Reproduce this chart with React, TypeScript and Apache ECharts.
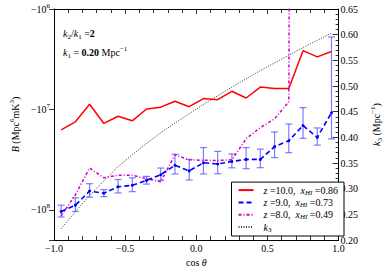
import React, { useEffect, useRef } from 'react';
import * as echarts from 'echarts';

// cos(theta) bin centres
const cosTheta = [-0.95, -0.85, -0.75, -0.65, -0.55, -0.45, -0.35, -0.25, -0.15, -0.05, 0.05, 0.15, 0.25, 0.35, 0.45, 0.55, 0.65, 0.75, 0.85, 0.95];

// Bispectrum B (Mpc^6 mK^3), negative values
const bZ10 = [-1.6e7, -1.33e7, -8.9e6, -1.38e7, -1.17e7, -1.3e7, -9.9e6, -9.5e6, -8.3e6, -9.4e6, -7.8e6, -8.0e6, -6.6e6, -7.7e6, -6.0e6, -6.2e6, -6.2e6, -2.6e6, -3.0e6, -2.65e6];
const bZ9 = [-1.04e8, -9.0e7, -6.5e7, -6.85e7, -5.9e7, -5.7e7, -5.1e7, -4.47e7, -3.6e7, -4.1e7, -3.4e7, -3.5e7, -3.3e7, -3.15e7, -3.15e7, -2.35e7, -2.05e7, -1.45e7, -1.9e7, -1.08e7];
const errZ9 = [1.4e7, 1.4e7, 1.0e7, 0.55e7, 0.9e7, 0.9e7, 0.45e7, 0.63e7, 0.8e7, 0.95e7, 1.0e7, 0.88e7, 0.52e7, 0.75e7, 0.66e7, 0.67e7, 0.65e7, 0.49e7, 0.37e7, 0.89e7];
// last three bins turn positive (drawn clipped, as on a log axis)
const bZ8 = [-1.15e8, -7.1e7, -3.84e7, -4.8e7, -4.53e7, -4.53e7, -4.9e7, -5.26e7, -2.83e7, -3.18e7, -3.21e7, -3.23e7, -3.18e7, -1.96e7, -1.52e7, -1.24e7, -8.4e6, 2e6, 3e6, 2e6];

// k3 (Mpc^-1) on right axis
const k3 = [0.222, 0.255, 0.287, 0.315, 0.343, 0.366, 0.388, 0.409, 0.428, 0.446, 0.464, 0.481, 0.498, 0.514, 0.53, 0.545, 0.56, 0.575, 0.589, 0.603];

const leftTicks = [6, 7, 8];

const FONT = "'Liberation Serif', 'DejaVu Serif', serif";

const mag = (b: number) => (-b > 0 ? -b : 1e-30);

function mkRich(fs: number, lh: number) {
  const sfs = Math.round(fs * 0.7);
  return {
    n: { fontFamily: FONT, fontSize: fs, lineHeight: lh, color: '#000' },
    i: { fontFamily: FONT, fontSize: fs, lineHeight: lh, color: '#000', fontStyle: 'italic' },
    ip: { fontFamily: FONT, fontSize: fs, lineHeight: lh, color: '#000', fontStyle: 'italic', padding: [0, 0, 0, 5] },
    b: { fontFamily: FONT, fontSize: fs, lineHeight: lh, color: '#000', fontWeight: 'bold' },
    sup: { fontFamily: FONT, fontSize: sfs, color: '#000', verticalAlign: 'top' },
    sub: { fontFamily: FONT, fontSize: sfs, color: '#000', verticalAlign: 'bottom' },
    subi: { fontFamily: FONT, fontSize: sfs, color: '#000', verticalAlign: 'bottom', fontStyle: 'italic' },
  };
}

const legendNames: Record<string, string> = {
  z10: '{ip|z}{n| =10.0,  }{i|x}{subi|HI}{n| =0.86}',
  z9: '{ip|z}{n| =9.0,  }{i|x}{subi|HI}{n| =0.73}',
  z8: '{ip|z}{n| =8.0,  }{i|x}{subi|HI}{n| =0.49}',
  k3: '{ip|k}{sub|3}',
};

export default function App() {
  const ref = useRef<HTMLDivElement>(null);
  useEffect(() => {
    if (!ref.current) return;
    const chart = echarts.init(ref.current, null, { renderer: 'svg' });
    const rich10 = mkRich(10, 14);
    const axisLine = { show: true, onZero: false, lineStyle: { color: '#000', width: 1 } };
    const tickStyle = { color: '#000', width: 0.8 };
    const fmtX = (v: number) => (v < 0 ? '−' + Math.abs(v).toFixed(1) : v.toFixed(1));
    const option: any = {
      animation: false,
      backgroundColor: '#fff',
      textStyle: { fontFamily: FONT },
      grid: { left: 48, right: 44, top: 9, bottom: 34 },
      xAxis: [
        {
          type: 'value', min: -1, max: 1, interval: 0.5, position: 'bottom',
          axisLine, axisTick: { inside: true, length: 5, lineStyle: tickStyle },
          minorTick: { show: true, splitNumber: 5, length: 4, lineStyle: tickStyle },
          splitLine: { show: false },
          axisLabel: { formatter: fmtX, fontFamily: FONT, fontSize: 10, color: '#000', margin: 3 },
          name: '{n|cos }{i|θ}', nameLocation: 'middle', nameGap: 15,
          nameTextStyle: { rich: rich10 },
        },
        {
          type: 'value', min: -1, max: 1, interval: 0.5, position: 'top',
          axisLine, axisTick: { inside: true, length: 5, lineStyle: tickStyle },
          minorTick: { show: true, splitNumber: 5, length: 4, lineStyle: tickStyle },
          splitLine: { show: false }, axisLabel: { show: false },
        },
      ],
      yAxis: [
        {
          type: 'log', logBase: 10, min: 1e6, max: 2e8, inverse: true, position: 'left',
          axisLine, axisTick: { inside: false, length: 5, lineStyle: tickStyle },
          minorTick: { show: false }, splitLine: { show: false },
          axisLabel: {
            margin: 4,
            formatter: (v: number) => {
              const L = Math.log10(v);
              const r = Math.round(L);
              if (Math.abs(L - r) > 1e-6 || leftTicks.indexOf(r) < 0) return '';
              return `{n|−10}{sup|${r}}`;
            },
            rich: rich10,
          },
          name: '{i|B}{n| (Mpc}{sup|6}{n|mK}{sup|3}{n|)}', nameLocation: 'middle', nameGap: 28,
          nameTextStyle: { rich: rich10 },
        },
        {
          type: 'value', min: 0.2, max: 0.65, interval: 0.05, position: 'right',
          axisLine, axisTick: { inside: true, length: 6, lineStyle: tickStyle },
          minorTick: { show: true, splitNumber: 5, length: 3, lineStyle: tickStyle },
          splitLine: { show: false },
          axisLabel: { formatter: (v: number) => v.toFixed(2), fontFamily: FONT, fontSize: 10, color: '#000', margin: 2 },
          name: '{i|k}{sub|3}{n| (Mpc}{sup|−1}{n|)}', nameLocation: 'middle', nameGap: 24,
          nameTextStyle: { rich: rich10 },
        },
      ],
      legend: {
        data: ['z10', 'z9', 'z8', 'k3'],
        orient: 'vertical', right: 47, bottom: 38, align: 'left',
        padding: [3, 6, 3, 6], itemGap: 1.3, itemWidth: 15, itemHeight: 10,
        backgroundColor: '#fff', borderColor: '#000', borderWidth: 1, borderRadius: 0,
        itemStyle: { color: 'rgba(0,0,0,0)', borderColor: 'rgba(0,0,0,0)', borderWidth: 0, opacity: 0 },
        formatter: (name: string) => legendNames[name],
        textStyle: { rich: mkRich(10, 12) },
      },
      graphic: [
        { type: 'text', left: 63, top: 28, style: { text: '{i|k}{sub|2}{n|/}{i|k}{sub|1}{n| =}{b|2}', rich: rich10 } },
        { type: 'text', left: 63, top: 45, style: { text: '{i|k}{sub|1}{n| = }{b|0.20}{n| Mpc}{sup|−1}', rich: rich10 } },
      ],
      series: [
        {
          name: 'z10', type: 'line', xAxisIndex: 0, yAxisIndex: 0, symbol: 'none',
          data: cosTheta.map((c, i) => [c, mag(bZ10[i])]),
          lineStyle: { color: '#ff0000', width: 1.5 }, itemStyle: { color: '#ff0000' }, z: 3,
        },
        {
          name: 'z9', type: 'line', xAxisIndex: 0, yAxisIndex: 0, symbol: 'none',
          data: cosTheta.map((c, i) => [c, mag(bZ9[i])]),
          lineStyle: { color: '#0000ff', width: 1.6, type: [5, 3] }, itemStyle: { color: '#0000ff' }, z: 4,
        },
        {
          name: 'z8', type: 'line', xAxisIndex: 0, yAxisIndex: 0, symbol: 'none',
          data: cosTheta.map((c, i) => [c, mag(bZ8[i])]),
          lineStyle: { color: '#cc00cc', width: 1.5, type: [3, 2, 1, 2] }, itemStyle: { color: '#cc00cc' }, z: 3,
        },
        {
          name: 'k3', type: 'line', xAxisIndex: 0, yAxisIndex: 1, symbol: 'none',
          data: cosTheta.map((c, i) => [c, k3[i]]),
          lineStyle: { color: '#333', width: 1, type: [1, 1.5] }, itemStyle: { color: '#333' }, z: 2,
        },
        {
          name: 'err9', type: 'custom', xAxisIndex: 0, yAxisIndex: 0, z: 3,
          dimensions: ['x', 'y', 'e'], encode: { x: 'x', y: 'y' },
          data: cosTheta.map((c, i) => [c, -bZ9[i], errZ9[i]]),
          renderItem: (params: any, api: any) => {
            const x = api.value(0), v = api.value(1), e = api.value(2);
            const t = api.coord([x, v - e]);
            const b = api.coord([x, v + e]);
            const c = api.coord([x, v]);
            const w = 3.5;
            const st = { stroke: 'rgba(70,70,255,0.7)', lineWidth: 1.2 };
            return {
              type: 'group',
              children: [
                { type: 'line', shape: { x1: t[0], y1: t[1], x2: b[0], y2: b[1] }, style: st },
                { type: 'line', shape: { x1: t[0] - w, y1: t[1], x2: t[0] + w, y2: t[1] }, style: st },
                { type: 'line', shape: { x1: b[0] - w, y1: b[1], x2: b[0] + w, y2: b[1] }, style: st },
                { type: 'circle', shape: { cx: c[0], cy: c[1], r: 1.5 }, style: { fill: '#0000ff' } },
              ],
            };
          },
        },
      ],
    };
    chart.setOption(option);
    return () => chart.dispose();
  }, []);
  return <div ref={ref} style={{ position: 'fixed', left: 0, top: 0, width: 391, height: 274, background: '#fff' }} />;
}
